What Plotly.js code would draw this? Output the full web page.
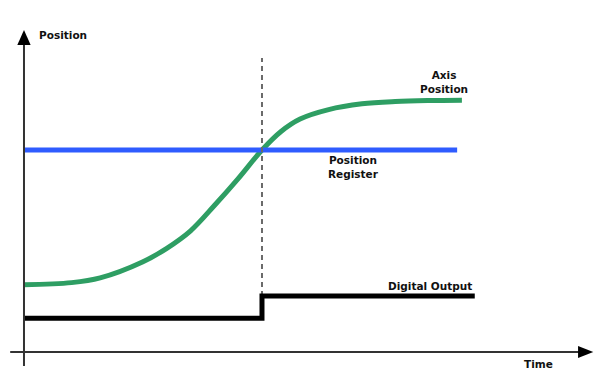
<!DOCTYPE html>
<html>
<head>
<meta charset="utf-8">
<script src="https://cdn.plot.ly/plotly-3.0.1.min.js"></script>
<style>
  html, body { margin: 0; padding: 0; background: #fff; }
  #chart { width: 595px; height: 387px; }
</style>
</head>
<body>
<div id="chart"></div>
<script>
// axis position vs time (arbitrary units)
var axisTime = [0, 1, 1.6, 2.5, 3, 3.5, 4, 4.5, 5, 5.4, 5.8, 6.4, 7.1, 7.8, 8.5, 9.2];
var axisPos  = [2.0, 2.06, 2.2, 2.68, 3.08, 3.6, 4.35, 5.15, 6.0, 6.55, 6.92, 7.2, 7.37, 7.44, 7.47, 7.48];

// position register (constant)
var regTime = [0, 9.1];
var regPos  = [6, 6];

// digital output step
var outTime = [0, 5.0, 9.47];
var outLevel = [1.0, 1.66, 1.66];

// trigger instant
var trigTime = [5.0, 5.0];
var trigPos  = [1.66, 8.73];

var traces = [
  {x: axisTime, y: axisPos, mode: 'lines', line: {color: '#2e9e63', width: 5, shape: 'spline', smoothing: 1}},
  {x: regTime, y: regPos, mode: 'lines', line: {color: '#2f5cff', width: 5}},
  {x: trigTime, y: trigPos, mode: 'lines', line: {color: '#6a6a6a', width: 2, dash: '5px,4px'}},
  {x: outTime, y: outLevel, mode: 'lines', line: {color: '#000', width: 5, shape: 'hv'}}
];

var lbl = {family: 'DejaVu Sans', size: 10.5, color: '#111'};
function note(t, p, txt, xa) {
  return {x: t, y: p, text: '<b>' + txt + '</b>', showarrow: false, xanchor: xa || 'center',
          yanchor: 'middle', font: lbl, align: 'center'};
}

var layout = {
  width: 595, height: 387,
  margin: {l: 0, r: 0, t: 0, b: 0},
  paper_bgcolor: '#fff', plot_bgcolor: '#fff',
  showlegend: false,
  xaxis: {range: [-0.504, 11.996], visible: false, fixedrange: true},
  yaxis: {range: [-1.04, 10.454], visible: false, fixedrange: true},
  shapes: [
    {type: 'line', x0: 0, x1: 0, y0: -0.42, y1: 9.15, line: {color: '#333', width: 2}},
    {type: 'path', path: 'M 0 9.56 L -0.14 9.12 L 0.14 9.12 Z', fillcolor: '#000', line: {width: 0}},
    {type: 'line', x0: -0.29, x1: 11.66, y0: 0, y1: 0, line: {color: '#333', width: 2}},
    {type: 'path', path: 'M 11.96 0 L 11.64 0.18 L 11.64 -0.18 Z', fillcolor: '#000', line: {width: 0}}
  ],
  annotations: [
    note(0.27, 9.41, 'Position', 'left'),
    note(8.82, 8.02, 'Axis<br>Position'),
    note(6.93, 5.48, 'Position<br>Register'),
    note(8.53, 1.96, 'Digital Output'),
    note(10.8, -0.36, 'Time')
  ]
};

Plotly.newPlot('chart', traces, layout, {staticPlot: true});
</script>
</body>
</html>
